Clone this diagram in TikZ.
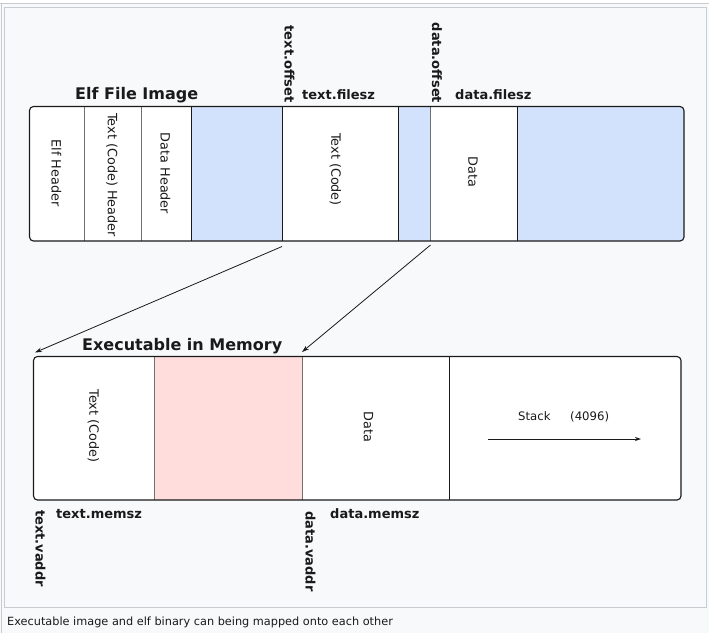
\documentclass[tikz,border=0pt]{standalone}
\usepackage{fontspec}
\setmainfont{DejaVu Sans}
\usetikzlibrary{arrows.meta}
\definecolor{framegrey}{HTML}{C8CCD1}
\definecolor{bgc}{HTML}{F8F9FA}
\definecolor{pblue}{HTML}{D3E2FC}
\definecolor{ppink}{HTML}{FFDDDD}
\definecolor{dark}{HTML}{1A1A1A}
\definecolor{midgrey}{HTML}{707070}
\tikzset{
  lbl/.style={font=\fontsize{13}{15}\selectfont\bfseries, inner sep=0pt, text=dark},
  ttl/.style={font=\fontsize{16}{18}\selectfont\bfseries, inner sep=0pt, text=dark},
  cell/.style={font=\fontsize{12.8}{14}\selectfont, inner sep=0pt, rotate=-90, text=dark},
  vlbl/.style={lbl, rotate=-90},
  boxline/.style={draw=dark, line width=1.1pt},
  divdark/.style={draw=dark, line width=1pt},
  divgrey/.style={draw=midgrey, line width=1pt},
  maparrow/.style={draw=dark, line width=0.8pt, -{Stealth[length=7pt,width=4.5pt]}},
}
\begin{document}
\begin{tikzpicture}[x=1pt,y=-1pt]
\useasboundingbox (0,0) rectangle (709,633);
% page frame
\fill[bgc] (0,3) rectangle (709,633);
\draw[framegrey, line width=1pt] (0,3.5) -- (709,3.5);
\draw[framegrey, line width=1pt] (1,3.5) -- (1,633);
\draw[framegrey, line width=1pt, fill=bgc] (4.5,7.5) rectangle (706.5,607.5);

% ---- Elf file image ----
\fill[white, rounded corners=4pt] (29.5,106.5) rectangle (684,241);
\begin{scope}
  \clip[rounded corners=4pt] (29.5,106.5) rectangle (684,241);
  \fill[pblue] (191,106.5) rectangle (282,241);
  \fill[pblue] (398,106.5) rectangle (430,241);
  \fill[pblue] (517,106.5) rectangle (684,241);
\end{scope}
\draw[divgrey] (84,106.5) -- (84,241);
\draw[divgrey] (141,106.5) -- (141,241);
\draw[divdark] (191,106.5) -- (191,241);
\draw[divdark] (282,106.5) -- (282,241);
\draw[divdark] (398,106.5) -- (398,241);
\draw[divgrey] (430,106.5) -- (430,241);
\draw[divdark] (517,106.5) -- (517,241);
\draw[boxline, rounded corners=4pt] (29.5,106.5) rectangle (684,241);

\node[cell] (eh) at (56.5,173) {Elf Header};
\node[cell] (tch) at (112,175) {Text (Code) Header};
\node[cell] (dh) at (165.5,173.5) {Data Header};
\node[cell] (tc) at (335.5,169.5) {Text (Code)};
\node[cell] (d) at (473,172) {Data};

\node[ttl, anchor=base west] (elft) at (75,99) {Elf File Image};
\node[vlbl] (toff) at (289.5,64) {text.offset};
\node[lbl, anchor=base west] (tfs) at (302,99.5) {text.filesz};
\node[vlbl] (doff) at (437,63) {data.offset};
\node[lbl, anchor=base west] (dfs) at (455,99.5) {data.filesz};

% ---- Executable in memory ----
\fill[white, rounded corners=4pt] (33.5,356.5) rectangle (681,500);
\fill[ppink] (154,356.5) rectangle (302,500);
\draw[divgrey] (154,356.5) -- (154,500);
\draw[divgrey] (302,356.5) -- (302,500);
\draw[divdark] (449.5,356.5) -- (449.5,500);
\draw[boxline, rounded corners=4pt] (33.5,356.5) rectangle (681,500);

\node[cell] (mtc) at (93.5,426) {Text (Code)};
\node[cell] (md) at (368.5,427) {Data};
\node[font=\fontsize{11.7}{13}\selectfont, inner sep=0pt, anchor=base west, text=dark] (stk) at (518,420) {Stack};
\node[font=\fontsize{11.7}{13}\selectfont, inner sep=0pt, anchor=base west, text=dark] (stn) at (570,420) {(4096)};
\coordinate (sa) at (488,439);
\coordinate (sb) at (641,439);
\draw[draw=dark, line width=0.8pt, -{Stealth[length=6pt,width=4pt]}] (sa) -- (sb);

\node[ttl, anchor=base west] (exet) at (82,350.5) {Executable in Memory};
\node[lbl, anchor=base west] (tms) at (56,518.5) {text.memsz};
\node[lbl, anchor=base west] (dms) at (330,518.5) {data.memsz};
\node[vlbl] (tva) at (40.5,548.5) {text.vaddr};
\node[vlbl] (dva) at (310.5,551.5) {data.vaddr};

% ---- mapping arrows ----
\coordinate (ts) at (282,246.5);
\coordinate (te) at (35,352.5);
\coordinate (ds) at (430.5,245);
\coordinate (de) at (302,352);
\draw[maparrow] (ts) -- (te);
\draw[maparrow] (ds) -- (de);

% caption
\node[font=\fontsize{11.3}{13}\selectfont, inner sep=0pt, anchor=base west, text=dark] (cap) at (7,625.5) {Executable image and elf binary can being mapped onto each other};
\end{tikzpicture}
\end{document}
